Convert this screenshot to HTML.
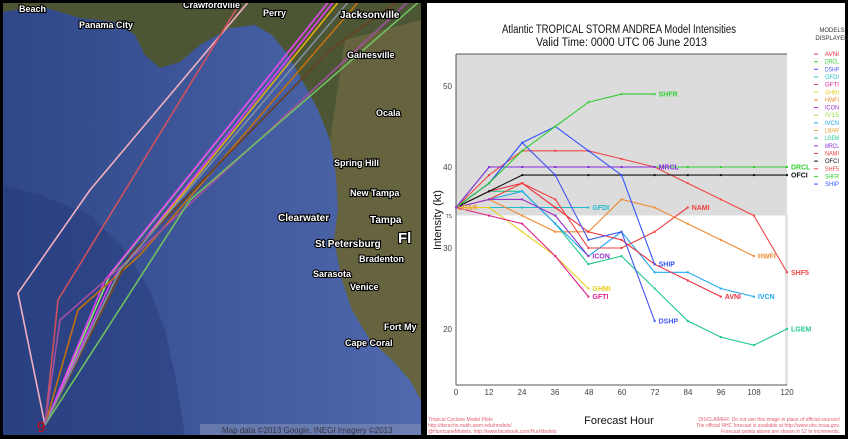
<!DOCTYPE html>
<html><head><meta charset="utf-8"><style>
body{margin:0;background:#000;width:848px;height:439px;overflow:hidden}
svg{position:absolute;left:0;top:0}
.ml{paint-order:stroke;stroke:#000;stroke-width:2.2px;fill:#fff;font-weight:bold}
</style></head><body>
<svg width="848" height="439" viewBox="0 0 848 439" font-family="Liberation Sans, sans-serif">
<rect width="848" height="439" fill="#000"/>
<defs>
<linearGradient id="sea" x1="0" y1="0" x2="1" y2="0"><stop offset="0" stop-color="#2f4788"/><stop offset="1" stop-color="#5069ae"/></linearGradient>
<clipPath id="mc"><rect x="3" y="3" width="418" height="432"/></clipPath>
</defs>
<g clip-path="url(#mc)">
<rect x="3" y="3" width="418" height="432" fill="url(#sea)"/>
<polygon points="3,3 3,12 40,6 80,18 115,22 135,35 145,55 160,68 180,62 200,45 230,28 255,25 272,35 288,55 302,80 318,110 330,140 336,175 338,210 334,240 342,280 352,310 370,340 392,360 410,380 421,400 421,3" fill="#4c5634"/>
<polygon points="345,40 421,20 421,400 410,380 392,360 370,340 352,310 342,280 334,240 338,210 336,175 330,140" fill="#66643f"/>
<polygon points="3,185 40,195 90,215 125,250 150,290 165,330 175,375 185,435 3,435" fill="#233777" opacity="0.45"/>
<g stroke-width="1.6" fill="none">
<polyline points="45,425 18,293 90,190 250,0" stroke="#f0b0c0"/>
<polyline points="45,425 58,300 240,3" stroke="#d05060"/>
<polyline points="45,425 110,275 330,0" stroke="#90e070"/>
<polyline points="45,425 105,280 330,0" stroke="#e040f0"/>
<polyline points="45,425 112,280 335,0" stroke="#e040f0"/>
<polyline points="45,425 125,265 340,0" stroke="#e0b010"/>
<polyline points="45,425 78,310 140,255 360,0" stroke="#c07010"/>
<polyline points="45,425 130,255 330,50 400,0" stroke="#6a4020"/>
<polyline points="45,425 60,320 140,250 410,0" stroke="#a050a0"/>
<polyline points="45,425 190,200 421,0" stroke="#70c060"/>
<polyline points="45,425 120,270 350,0" stroke="#8090a0"/>
</g>
<text x="37" y="432" font-size="15" fill="#d00000">9</text>
<g font-size="9" class="ml">
<text x="19" y="12">Beach</text><text x="79" y="28">Panama City</text>
<text x="183" y="8">Crawfordville</text><text x="263" y="16">Perry</text>
<text x="340" y="18" font-size="10">Jacksonville</text><text x="347" y="58">Gainesville</text>
<text x="376" y="116">Ocala</text><text x="334" y="166">Spring Hill</text>
<text x="350" y="196">New Tampa</text><text x="278" y="221" font-size="10">Clearwater</text>
<text x="370" y="223" font-size="10">Tampa</text><text x="315" y="247" font-size="10">St Petersburg</text>
<text x="359" y="262">Bradenton</text><text x="313" y="277">Sarasota</text>
<text x="350" y="290">Venice</text><text x="384" y="330">Fort My</text>
<text x="345" y="346">Cape Coral</text><text x="398" y="243" font-size="15">Fl</text>
</g>
<rect x="200" y="424" width="221" height="11" fill="#8090b8" opacity="0.6"/>
<text x="222" y="433" font-size="8" fill="#334">Map data ©2013 Google, INEGI Imagery ©2013</text>
</g>
<rect x="427" y="3" width="418" height="432" fill="#fff"/>
<rect x="456" y="54" width="331" height="161.5" fill="#dcdcdc"/>
<rect x="785" y="215" width="3" height="170" fill="#e4e4e4"/>
<line x1="456" y1="54" x2="787" y2="54" stroke="#555"/>
<line x1="456" y1="54" x2="456" y2="385" stroke="#555"/>
<line x1="456" y1="385" x2="787" y2="385" stroke="#555"/>
<g font-size="8" fill="#444" text-anchor="end">
<text x="452" y="89">50</text><text x="452" y="170">40</text><text x="452" y="251">30</text><text x="452" y="332">20</text>
<text x="452" y="218" font-size="5">TS</text></g>
<g font-size="8" fill="#444" text-anchor="middle">
<text x="456" y="395">0</text><text x="489" y="395">12</text><text x="522" y="395">24</text><text x="555" y="395">36</text><text x="589" y="395">48</text><text x="622" y="395">60</text><text x="655" y="395">72</text><text x="688" y="395">84</text><text x="721" y="395">96</text><text x="754" y="395">108</text><text x="787" y="395">120</text></g>
<text x="502" y="33" font-size="11.5" fill="#111" textLength="234" lengthAdjust="spacingAndGlyphs">Atlantic TROPICAL STORM ANDREA Model Intensities</text>
<text x="536" y="46" font-size="11.5" fill="#111" textLength="171" lengthAdjust="spacingAndGlyphs">Valid Time: 0000 UTC 06 June 2013</text>
<text x="619" y="424" font-size="11" text-anchor="middle" fill="#111">Forecast Hour</text>
<text transform="translate(441,220) rotate(-90)" font-size="11" text-anchor="middle" fill="#111">Intensity (kt)</text>
<text x="832" y="32" font-size="6" text-anchor="middle" fill="#333">MODELS</text>
<text x="832" y="40" font-size="6" text-anchor="middle" fill="#333">DISPLAYED</text>
<g font-size="5" fill="#e06070"><text x="428" y="421">Tropical Cyclone Model Plots</text><text x="428" y="427">http://derecho.math.uwm.edu/models/</text><text x="428" y="433">@HurricaneModels, http://www.facebook.com/HurrModels</text>
<text x="840" y="421" text-anchor="end">DISCLAIMER: Do not use this image in place of official sources!</text><text x="840" y="427" text-anchor="end">The official NHC forecast is available at http://www.nhc.noaa.gov.</text><text x="840" y="433" text-anchor="end">Forecast points above are shown in 12 hr increments.</text></g>
<g id="series" fill="none" stroke-width="1.1"></g>
<g id="lbls" font-size="7" font-weight="bold"></g>
<g id="leg" font-size="6"></g>
</svg>
<script>
const X=h=>456+h*331/120, Y=v=>167-(v-40)*8.1;
const S=[
["DRCL","#33cc33",[35,40,40,40,40,40,40,40,40,40,40]],
["LBAR","#e8a030",[35,35]],
["GFDI","#22bbcc",[35,35,35,35,35]],
["GHMI","#e8d020",[35,35,32,29,25]],
["GFTI","#e0208a",[35,34,33,29,24]],
["HWFI","#f08a30",[35,36,34,32,32,36,35,33,31,29]],
["LGEM","#20c890",[35,37,37,33,28,29,25,21,19,18,20]],
["IVCN","#20a8f0",[35,36,37,33,29,32,27,27,25,24]],
["AVNI","#f03040",[35,37,38,35,32,31,28,26,24]],
["NAMI","#f04040",[35,36,38,36,30,30,32,35]],
["SHF5","#f04848",[35,39,42,42,42,41,40,38,36,34,27]],
["OFCI","#111111",[35,37,39,39,39,39,39,39,39,39,39]],
["MRCL","#8a2be2",[35,40,40,40,40,40,40]],
["DSHP","#4455ee",[35,38,43,39,31,32,21]],
["SHIP","#3355ff",[35,38,43,45,42,39,28]],
["SHFR","#33cc33",[35,38,42,45,48,49,49]],
["ICON","#9933cc",[35,36,36,34,29]]];
const ns="http://www.w3.org/2000/svg",g=document.getElementById("series"),L=document.getElementById("lbls");
S.forEach(([n,c,d])=>{const p=document.createElementNS(ns,"polyline");p.setAttribute("points",d.map((v,i)=>X(i*12)+","+Y(v)).join(" "));p.setAttribute("stroke",c);g.appendChild(p);
d.forEach((v,i)=>{const r=document.createElementNS(ns,"rect");r.setAttribute("x",X(i*12)-1);r.setAttribute("y",Y(v)-1);r.setAttribute("width",2);r.setAttribute("height",2);r.setAttribute("fill",c);g.appendChild(r)});
const i=d.length-1;if(n=="LBAR")return;const t=document.createElementNS(ns,"text");t.setAttribute("x",X(i*12)+4);t.setAttribute("y",Y(d[i])+2.5);t.setAttribute("fill",c);t.textContent=n;L.appendChild(t);});
const t=document.createElementNS(ns,"text");t.setAttribute("x",458);t.setAttribute("y",210);t.setAttribute("fill","#e8a030");t.textContent="LBAR";L.appendChild(t);
const leg=[["AVNI","#f03040"],["DRCL","#33cc33"],["DSHP","#4455ee"],["GFDI","#22bbcc"],["GFTI","#e0208a"],["GHMI","#e8d020"],["HWFI","#f08a30"],["ICON","#9933cc"],["IV15","#99dd44"],["IVCN","#20a8f0"],["LBAR","#e8a030"],["LGEM","#20c890"],["MRCL","#8a2be2"],["NAMI","#f04040"],["OFCI","#111"],["SHF5","#f04848"],["SHFR","#33cc33"],["SHIP","#3355ff"]];
const G=document.getElementById("leg");
leg.forEach(([n,c],k)=>{const y=56+k*7.65;G.insertAdjacentHTML("beforeend",`<line x1="814" x2="818" y1="${y-2}" y2="${y-2}" stroke="${c}"/><text x="825" y="${y}" fill="${c}" textLength="14" lengthAdjust="spacingAndGlyphs">${n}</text>`)});
</script>
</body></html>
